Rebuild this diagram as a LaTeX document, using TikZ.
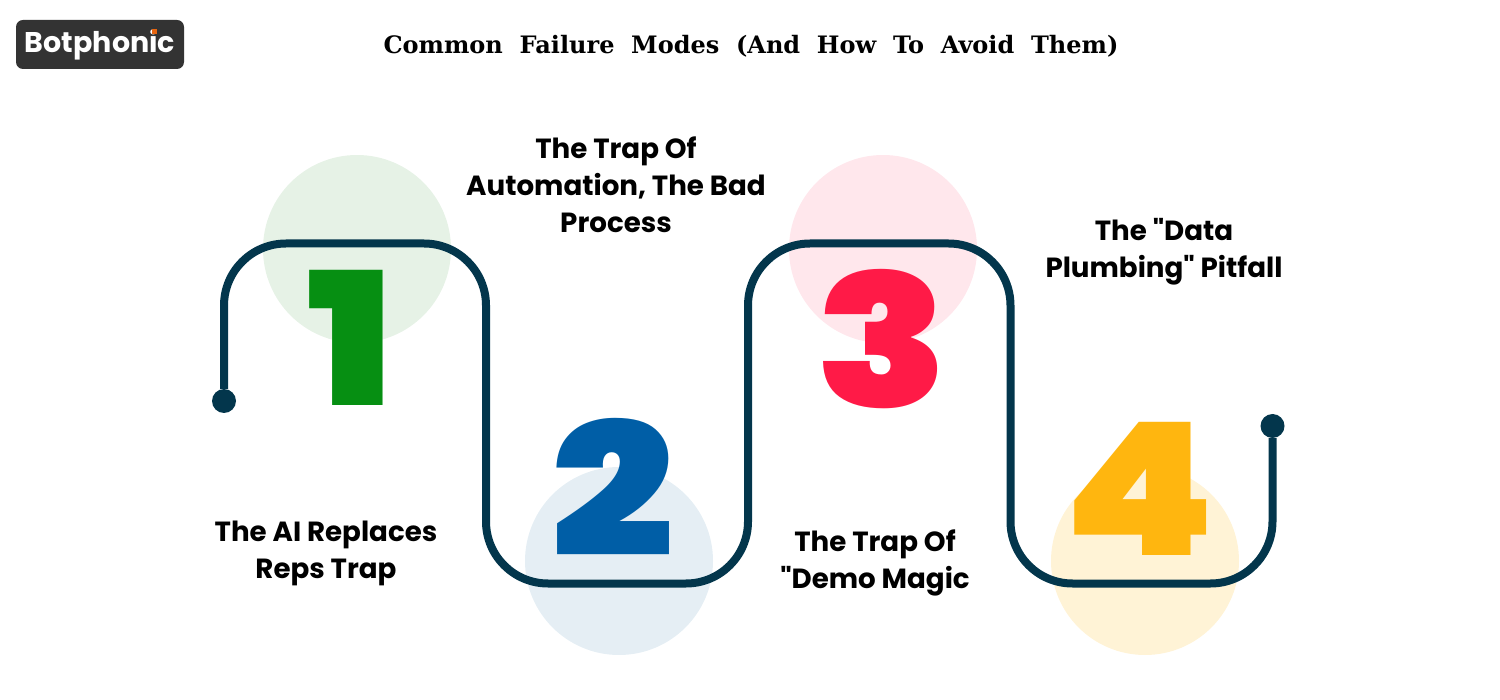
\documentclass[tikz,border=0pt]{standalone}
\usepackage{fontspec}
\newfontfamily\lblfont{Poppins Bold}
\newfontfamily\digitfont{Poppins Black}[FakeStretch=1.17]
\newfontfamily\titlefont{DejaVu Serif Bold}
\definecolor{wirecol}{HTML}{03364C}
\definecolor{logocol}{HTML}{333333}
\definecolor{sparkcol}{HTML}{E8650F}
\definecolor{blob1}{HTML}{E6F2E6}
\definecolor{blob2}{HTML}{E5EEF4}
\definecolor{blob3}{HTML}{FFE7EC}
\definecolor{blob4}{HTML}{FFF3D6}
\definecolor{num1}{HTML}{068F12}
\definecolor{num2}{HTML}{005EA6}
\definecolor{num3}{HTML}{FF1A47}
\definecolor{num4}{HTML}{FFB60F}
\tikzset{
  blob/.style = {circle, minimum size = 188pt, inner sep = 0pt},
  num/.style = {inner sep = 0pt, font = \digitfont\fontsize{185}{185}\selectfont},
  lbl/.style = {inner sep = 0pt, align = center, font = \lblfont\fontsize{27.7}{37}\selectfont},
  dot/.style = {circle, fill = wirecol, minimum size = 24pt, inner sep = 0pt},
}
\begin{document}
\begin{tikzpicture}[x = 1pt, y = -1pt]
\useasboundingbox (0,0) rectangle (1500,700);

% logo and title
\node[fill = logocol, rounded corners = 7pt, minimum width = 168pt, minimum height = 49pt, inner sep = 0pt](LOGO) at (100,44.5){};
\node[text = white, inner sep = 0pt, font = \lblfont\fontsize{28.5}{29}\selectfont](BRAND) at (LOGO.center){Botphonic};
\node[fill = sparkcol, minimum size = 5pt, inner sep = 0pt](SPARK) at (154,32){};
\node[inner sep = 0pt, font = \titlefont\fontsize{24}{24}\selectfont](TITLE) at (751,46){Common\ \ Failure\ \ Modes\ \ (And\ \ How\ \ To\ \ Avoid\ \ Them)};

% circles behind the line
\node[blob, fill = blob1](C1) at (357,249){};
\node[blob, fill = blob2](C2) at (619,561){};
\node[blob, fill = blob3](C3) at (883,249){};
\node[blob, fill = blob4](C4) at (1145,561){};

% the line
\node[dot](DL) at (224,401){};
\node[dot](DR) at (1272.5,426){};
\draw[wirecol, line width = 8pt, rounded corners = 62pt] (DL) -- ++(0,-157.5) -- ++(262,0) -- ++(0,340) -- ++(262,0) -- ++(0,-340) -- ++(262.5,0) -- ++(0,340) -- ++(262,0) -- (DR);

% numbers
\node[num, text = num1](N1) at (351,337.5){1};
\node[num, text = num2](N2) at (612.5,487.5){2};
\node[num, text = num3](N3) at (882,339){3};
\node[num, text = num4](N4) at (1139.5,488.5){4};

% labels
\node[lbl](L1) at (326,553){The AI Replaces\\Reps Trap};
\node[lbl](L2) at (616,185){The Trap Of\\Automation, The Bad\\Process};
\node[lbl](L3) at (875,563){The Trap Of\\"Demo Magic};
\node[lbl](L4) at (1164,252){The "Data\\Plumbing" Pitfall};
\end{tikzpicture}
\end{document}
